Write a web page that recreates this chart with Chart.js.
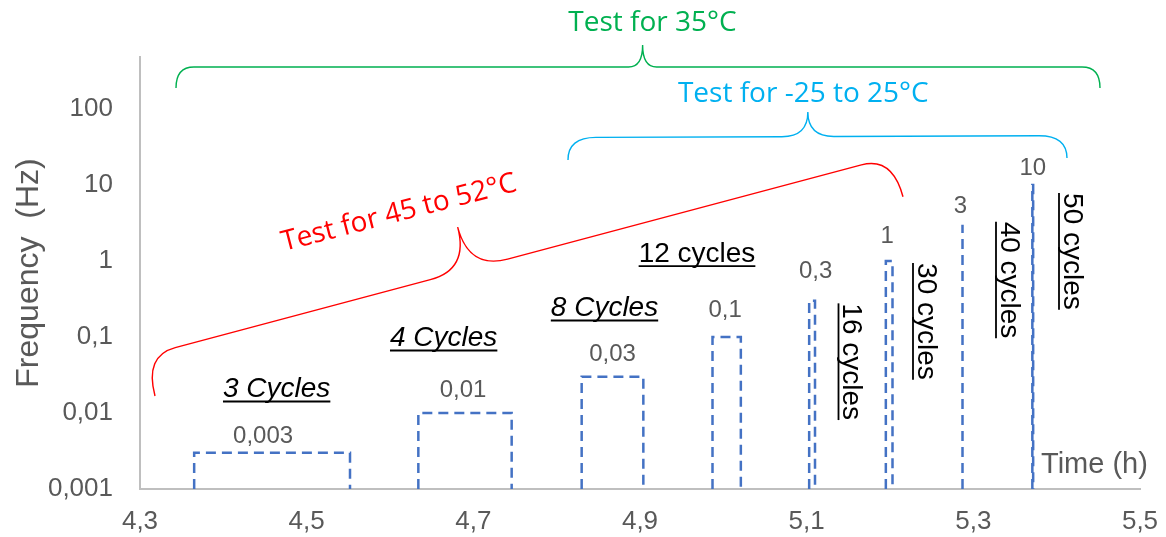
<!DOCTYPE html>
<html><head><meta charset="utf-8">
<script src="https://cdn.jsdelivr.net/npm/chart.js@4/dist/chart.umd.min.js"></script>
<style>html,body{margin:0;padding:0;background:#fff;overflow:hidden}</style>
</head><body>
<canvas id="c" width="1166" height="537"></canvas>
<script>
// ---------- data ----------
const pulseStart = [4.365, 4.634, 4.830, 4.987, 5.103, 5.195, 5.287, 5.3708];
const pulseEnd   = [4.552, 4.746, 4.904, 5.021, 5.110, 5.203, 5.287, 5.3718];
const pulseFreq  = [0.003, 0.01, 0.03, 0.1, 0.3, 1, 3, 10];
const baseFreq   = 0.001;
const cycleLabels = ['3 Cycles','4 Cycles','8 Cycles','12 cycles','16 cycles','30 cycles','40 cycles','50 cycles'];
const xTicks = [4.3, 4.5, 4.7, 4.9, 5.1, 5.3, 5.5];
const yTicks = [0.001, 0.01, 0.1, 1, 10, 100];
const xAxisLabel = 'Time (h)';
const yAxisLabel = 'Frequency  (Hz)';
const braceTitles = ['Test for 35°C', 'Test for -25 to 25°C', 'Test for 45 to 52°C'];

// ---------- annotation layout (data coordinates / pixel offsets) ----------
const SANS = "'Liberation Sans', Arial, sans-serif";
const SEGOE = "'Open Sans', 'Noto Sans', sans-serif";
const layoutCfg = {
  valueShift: [[-9,9.7],[-2,16],[0,15.7],[-1.5,19.5],[3.5,22.4],[-2,17.7],[-2,11.4],[0,10]],
  cycleAnchor: [[4.464,0.01624],[4.6644,0.0761],[4.8574,0.189],[4.9684,0.979],[5.1436,0.0473],[5.233,0.16],[5.3326,0.562],[5.4082,1.334]],
  cycleItalic: [true,true,true,false,false,false,false,false],
  cycleRotated: [false,false,false,false,true,true,true,true],
  timeAnchor: [5.3812, 0.00161],
  braces: [
    {a:[4.3432,188.9], b:[5.452,188.9], depth:21, tip:43, frac:0.505, r1:18, r2:14, color:'#00B050',
     text:[4.915,1072], angle:0},
    {a:[4.8136,21.3], b:[5.4124,22.6], depth:22.5, tip:47, frac:0.481, r1:28, r2:26, color:'#00B0F0',
     text:[5.096,124.7], angle:0},
    {a:[4.318,0.01675], b:[5.2156,7.01], depth:41.5, tip:85.3, frac:0.434, r1:32, r2:40, color:'#FF0000',
     text:[4.6132,3.38], angle:-14.5}
  ]
};

const fmt = v => String(v).replace('.', ',');

function drawBrace(ctx, A, B, o) {
  const dx = B.x - A.x, dy = B.y - A.y;
  const L = Math.hypot(dx, dy);
  const u = {x: dx / L, y: dy / L};
  const n = {x: u.y, y: -u.x};
  const P = (s, t) => ({x: A.x + u.x * s + n.x * t, y: A.y + u.y * s + n.y * t});
  const m = L * o.frac, d = o.depth, h = o.tip;
  ctx.beginPath();
  let p = P(0, 0); ctx.moveTo(p.x, p.y);
  let c = P(0, d), e = P(o.r1, d); ctx.quadraticCurveTo(c.x, c.y, e.x, e.y);
  e = P(m - o.r2, d); ctx.lineTo(e.x, e.y);
  c = P(m, d); e = P(m, h); ctx.quadraticCurveTo(c.x, c.y, e.x, e.y);
  c = P(m, d); e = P(m + o.r2, d); ctx.quadraticCurveTo(c.x, c.y, e.x, e.y);
  e = P(L - o.r1, d); ctx.lineTo(e.x, e.y);
  c = P(L, d); e = P(L, 0); ctx.quadraticCurveTo(c.x, c.y, e.x, e.y);
  ctx.stroke();
}

const annotPlugin = {
  id: 'annot',
  afterDraw(chart) {
    const ctx = chart.ctx, xs = chart.scales.x, ys = chart.scales.y;
    const X = v => xs.getPixelForValue(v), Y = v => ys.getPixelForValue(v);
    ctx.save();
    // value labels
    ctx.fillStyle = '#595959';
    ctx.font = `24px ${SANS}`;
    ctx.textAlign = 'center';
    ctx.textBaseline = 'alphabetic';
    pulseFreq.forEach((f, i) => {
      const [dx, dy] = layoutCfg.valueShift[i];
      ctx.fillText(fmt(f), X((pulseStart[i] + pulseEnd[i]) / 2) + dx, Y(f) - dy);
    });
    // cycle labels
    cycleLabels.forEach((t, i) => {
      const [ax, ay] = layoutCfg.cycleAnchor[i];
      ctx.save();
      ctx.translate(X(ax), Y(ay));
      if (layoutCfg.cycleRotated[i]) ctx.rotate(Math.PI / 2);
      ctx.font = `${layoutCfg.cycleItalic[i] ? 'italic ' : ''}28px ${SANS}`;
      ctx.fillStyle = '#000';
      ctx.textAlign = 'center';
      ctx.textBaseline = 'alphabetic';
      ctx.fillText(t, 0, 0);
      const w = ctx.measureText(t).width;
      ctx.strokeStyle = '#000';
      ctx.lineWidth = 1.8;
      ctx.beginPath();
      ctx.moveTo(-w / 2, 4.5); ctx.lineTo(w / 2, 4.5);
      ctx.stroke();
      ctx.restore();
    });
    // x-axis label
    ctx.fillStyle = '#595959';
    ctx.font = `29px ${SANS}`;
    ctx.textAlign = 'left';
    ctx.fillText(xAxisLabel, X(layoutCfg.timeAnchor[0]), Y(layoutCfg.timeAnchor[1]));
    // braces
    layoutCfg.braces.forEach((b, i) => {
      ctx.strokeStyle = b.color;
      ctx.lineWidth = 1.4;
      drawBrace(ctx, {x: X(b.a[0]), y: Y(b.a[1])}, {x: X(b.b[0]), y: Y(b.b[1])}, b);
      ctx.save();
      ctx.translate(X(b.text[0]), Y(b.text[1]));
      ctx.rotate(b.angle * Math.PI / 180);
      ctx.fillStyle = b.color;
      ctx.font = `28px ${SEGOE}`;
      ctx.textAlign = 'center';
      ctx.textBaseline = 'alphabetic';
      ctx.fillText(braceTitles[i], 0, 0);
      ctx.restore();
    });
    ctx.restore();
  }
};

const datasets = pulseFreq.map((f, i) => {
  const s = pulseStart[i], e = pulseEnd[i];
  const pts = s === e
    ? [{x: s, y: baseFreq}, {x: s, y: f}]
    : [{x: s, y: baseFreq}, {x: s, y: f}, {x: e, y: f}, {x: e, y: baseFreq}];
  return {
    data: pts, showLine: true, borderColor: '#4472C4', borderWidth: 2.5,
    borderDash: [10, 6], pointRadius: 0, fill: false, tension: 0, clip: false
  };
});

new Chart(document.getElementById('c'), {
  type: 'scatter',
  data: {datasets},
  options: {
    responsive: false, animation: false, devicePixelRatio: 1,
    layout: {padding: {top: 57, right: 26, left: 0, bottom: 0}},
    plugins: {legend: {display: false}, tooltip: {enabled: false}},
    scales: {
      x: {
        type: 'linear', min: 4.3, max: 5.5,
        afterBuildTicks: s => { s.ticks = xTicks.map(v => ({value: v})); },
        afterFit: s => { s.height = 48; s.paddingRight = 0; s.paddingLeft = 0; },
        grid: {display: false, drawTicks: false},
        border: {display: true, color: '#BFBFBF', width: 2},
        ticks: {color: '#595959', font: {family: SANS, size: 26}, padding: 17,
                maxRotation: 0, autoSkip: false, callback: v => fmt(v)}
      },
      y: {
        type: 'logarithmic', min: 0.001, max: 483,
        afterBuildTicks: s => { s.ticks = yTicks.map(v => ({value: v})); },
        afterFit: s => { s.width = 140; s.paddingTop = 0; s.paddingBottom = 0; },
        grid: {display: false, drawTicks: false},
        border: {display: true, color: '#BFBFBF', width: 2},
        ticks: {color: '#595959', font: {family: SANS, size: 26}, padding: 27,
                autoSkip: false, callback: v => fmt(v)},
        title: {display: true, text: yAxisLabel, color: '#595959',
                font: {family: SANS, size: 32}, padding: {top: 10, bottom: 0}}
      }
    }
  },
  plugins: [annotPlugin]
});
</script>
</body></html>
